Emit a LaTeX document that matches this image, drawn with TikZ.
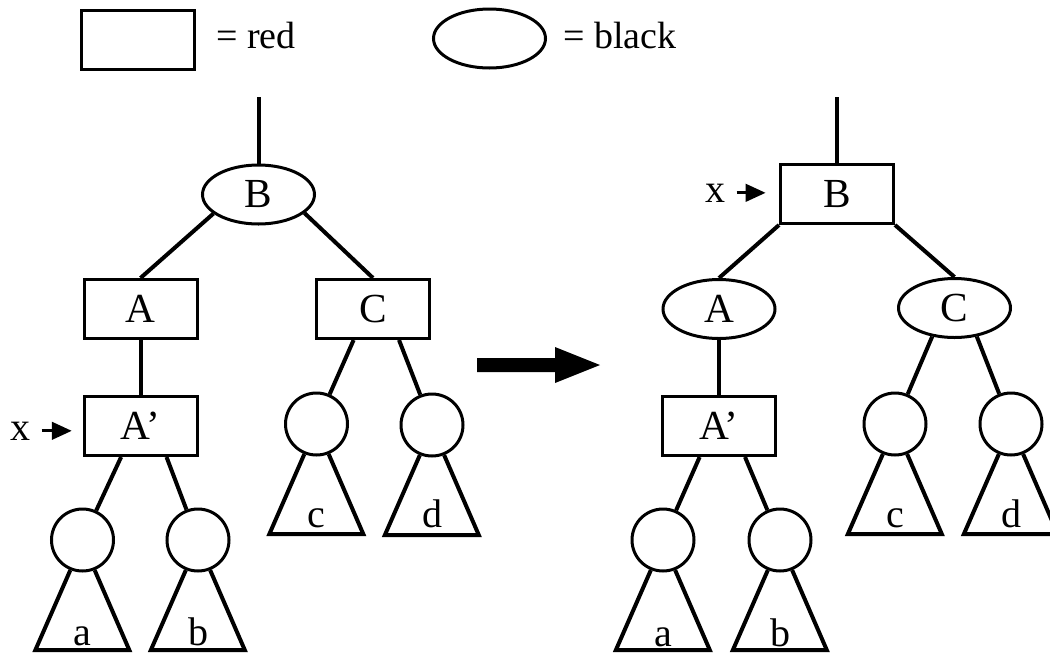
\documentclass[tikz,border=0pt]{standalone}
\usepackage{fontspec}
\setmainfont{Liberation Serif}
\usepackage{tikz}
\usetikzlibrary{arrows.meta,shapes.geometric}

\tikzset{
  redbox/.style={draw,line width=2.25pt,rectangle,minimum width=84.75pt,minimum height=44.25pt,inner sep=0pt,font=\fontsize{31}{33}\selectfont},
  blackoval/.style={draw,line width=2.25pt,ellipse,minimum width=84pt,minimum height=44.25pt,inner sep=0pt,font=\fontsize{31}{33}\selectfont},
  leafnode/.style={draw,line width=2.25pt,circle,minimum size=46.5pt,inner sep=0pt},
  leaflabel/.style={anchor=base,inner sep=0pt,font=\fontsize{30}{32}\selectfont},
  treeedge/.style={line width=3pt},
  subtree/.style={line width=3pt,line join=miter},
  ptr/.style={line width=2.5pt,-{Triangle[length=15pt,width=13pt]}}
}

\begin{document}
\begin{tikzpicture}[x=0.75pt,y=0.75pt,yscale=-1,xscale=1]
\useasboundingbox (0,0) rectangle (1050,654);

% key
\node[redbox] (keyred) at (138,40) {};
\node[leaflabel,anchor=base west,font=\fontsize{28.5}{30}\selectfont] (keyredtxt) at (216,48) {= red};
\node[blackoval] (keyblack) at (489.5,38.5) {};
\node[leaflabel,anchor=base west,font=\fontsize{28.5}{30}\selectfont] (keyblacktxt) at (563,48) {= black};

% before
\coordinate (ltop) at (258.5,97);
\node[blackoval] (lB) at (258.5,194.5) {B};
\node[redbox] (lA) at (140.5,309) {A};
\node[redbox] (lC) at (373,309) {C};
\node[redbox] (lAp) at (140.5,426) {A’};

\node[leafnode] (la) at (82.5,540) {};
\node[leafnode] (lb) at (198,540) {};
\node[leafnode] (lc) at (316.5,424) {};
\node[leafnode] (ld) at (432,425) {};

\draw[treeedge] (ltop) -- (lB.north);
\draw[treeedge] (lB.-157) -- (lA.north);
\draw[treeedge] (lB.-22) -- (lC.north);
\draw[treeedge] (lA) -- (lAp);
\draw[treeedge] (lAp.-122) -- (la);
\draw[treeedge] (lAp.-50) -- (lb);
\draw[treeedge] (lC.-122) -- (lc);
\draw[treeedge] (lC.-50) -- (ld);

\node[leaflabel] (lx) at (20,440) {x};
\draw[ptr,shorten <=8.5pt,shorten >=8pt] (lx.east) -- (lx.east -| lAp.west);

% rotation arrow
\fill (477,365) ++(0,-7) -- ++(78,0) -- ++(0,-11) -- ++(45,18) -- ++(-45,18) -- ++(0,-11) -- ++(-78,0) -- cycle;

% after
\coordinate (rtop) at (837,97);
\node[redbox] (rB) at (837,194) {B};
\node[blackoval] (rA) at (719,309) {A};
\node[blackoval] (rC) at (954.5,308) {C};
\node[redbox] (rAp) at (719,426) {A’};

\node[leafnode] (ra) at (663,540) {};
\node[leafnode] (rb) at (780,540) {};
\node[leafnode] (rc) at (895,424) {};
\node[leafnode] (rd) at (1011,424) {};

\draw[treeedge] (rtop) -- (rB.north);
\draw[treeedge] (rB.south west) -- (rA.north);
\draw[treeedge] (rB.south east) -- (rC.north);
\draw[treeedge] (rA) -- (rAp);
\draw[treeedge] (rAp.-122) -- (ra);
\draw[treeedge] (rAp.-50) -- (rb);
\draw[treeedge] (rC.-128) -- (rc);
\draw[treeedge] (rC.-52) -- (rd);

\node[leaflabel] (rx) at (715,202) {x};
\draw[ptr,shorten <=8.5pt,shorten >=10pt] (rx.east) -- (rx.east -| rB.west);

% subtrees
\foreach \t in {la,lb,lc,ld,ra,rb,rc,rd}
  \draw[subtree] (\t.-112) -- ++(-35,80) -- ++(94,0) -- (\t.-68);

\node[leaflabel] (ta) at (82.5,645) {a};
\node[leaflabel] (tb) at (198,645) {b};
\node[leaflabel] (tc) at (316,527) {c};
\node[leaflabel] (td) at (432,527) {d};
\node[leaflabel] (ua) at (663,646) {a};
\node[leaflabel] (ub) at (780,646) {b};
\node[leaflabel] (uc) at (895,527) {c};
\node[leaflabel] (ud) at (1011,527) {d};

\end{tikzpicture}
\end{document}
